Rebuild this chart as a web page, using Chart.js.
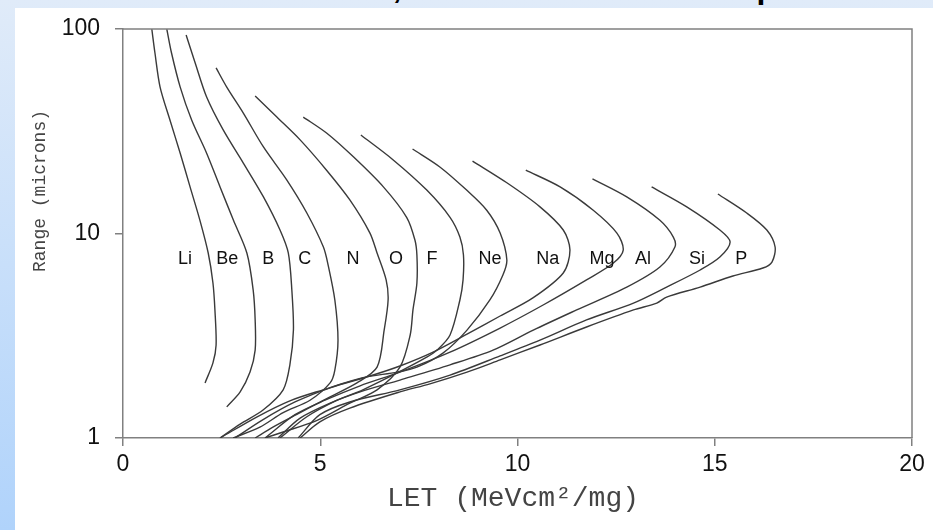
<!DOCTYPE html>
<html>
<head>
<meta charset="utf-8">
<script src="https://cdn.jsdelivr.net/npm/chart.js@4.4.1/dist/chart.umd.min.js"></script>
<style>
html, body {
    margin: 0;
    padding: 0;
    width: 933px;
    height: 530px;
    overflow: hidden;
    background: linear-gradient(180deg, #e0ebf9 0%, #b0d3fb 100%);
}
#panel { position: absolute; left: 15px; top: 8px; width: 918px; height: 522px; background: #fff; }
#title { position: absolute; top: 0; font-weight: bold; font-family: "Liberation Sans", Arial, sans-serif; color: #000; white-space: pre; }
#wrap { position: absolute; left: 0; top: 0; width: 933px; height: 530px; }
</style>
</head>
<body>
<div id="panel"></div>
<div id="title"></div>
<div id="wrap"><canvas id="rangeChart"></canvas></div>
<script>
// LET (MeV cm2/mg) gegen Reichweite (microns)
const ions = ['Li', 'Be', 'B', 'C', 'N', 'O', 'F', 'Ne', 'Na', 'Mg', 'Al', 'Si', 'P'];

const letLi = [0.73, 0.81, 0.94, 1.19, 1.45, 1.70, 1.95, 2.16, 2.28, 2.33, 2.36, 2.28, 2.08];
const rangeLi = [100, 76.3, 52.0, 35.9, 24.7, 16.9, 11.6, 8.03, 5.73, 4.23, 2.85, 2.33, 1.86];

const letBe = [1.11, 1.23, 1.45, 1.74, 2.12, 2.46, 2.80, 3.14, 3.30, 3.35, 3.35, 3.22, 2.97, 2.63];
const rangeBe = [100, 76.3, 52.0, 35.9, 24.7, 16.9, 11.6, 8.03, 5.29, 3.78, 2.69, 2.10, 1.68, 1.42];

const letB = [1.60, 1.83, 2.12, 2.54, 3.05, 3.56, 3.98, 4.19, 4.28, 4.32, 4.23, 4.06, 3.55, 2.97, 2.46];
const rangeB = [93.5, 68.2, 46.5, 32.1, 22.1, 15.1, 10.4, 8.03, 5.29, 3.37, 2.28, 1.72, 1.37, 1.17, 1.0];

const letC = [2.36, 2.63, 3.05, 3.56, 4.15, 4.66, 5.08, 5.20, 5.37, 5.45, 5.37, 5.25, 4.74, 4.06, 3.47, 2.79];
const rangeC = [64.5, 52.0, 38.8, 26.5, 18.3, 12.6, 8.59, 7.01, 4.73, 3.01, 2.15, 1.86, 1.53, 1.33, 1.13, 1.0];

const letN = [3.35, 3.90, 4.49, 5.16, 5.75, 6.26, 6.44, 6.67, 6.72, 6.62, 6.44, 5.93, 5.25, 4.49, 3.80, 3.35];
const rangeN = [47.0, 37.1, 28.7, 20.4, 14.6, 10.05, 8.03, 5.93, 4.73, 3.37, 2.22, 1.86, 1.59, 1.33, 1.13, 1.0];

const letO = [4.57, 5.16, 5.84, 6.60, 7.19, 7.40, 7.45, 7.45, 7.35, 7.28, 7.02, 6.44, 5.75, 4.92, 4.06, 3.60];
const rangeO = [37.1, 31.0, 23.7, 16.9, 12.0, 9.29, 7.85, 5.73, 4.23, 3.19, 2.22, 1.72, 1.48, 1.22, 1.07, 1.0];

const letF = [6.03, 6.85, 7.70, 8.29, 8.54, 8.63, 8.62, 8.54, 8.29, 7.96, 7.71, 6.95, 6.08, 5.43, 4.66, 3.98];
const rangeF = [30.3, 22.9, 16.3, 12.0, 9.61, 7.85, 5.93, 4.73, 3.19, 2.69, 2.49, 2.08, 1.72, 1.53, 1.27, 1.0];

const letNe = [7.34, 8.04, 8.71, 9.22, 9.56, 9.73, 9.63, 9.30, 8.72, 8.11, 7.45, 6.95, 6.08, 5.07, 4.23, 3.40, 2.46];
const rangeNe = [25.9, 21.1, 16.3, 13.0, 10.05, 7.42, 6.27, 4.73, 3.37, 2.60, 2.22, 2.10, 1.97, 1.72, 1.52, 1.27, 1.0];

const letNa = [8.86, 9.73, 10.57, 11.16, 11.33, 11.16, 10.39, 9.56, 8.72, 7.86, 7.02, 6.26, 5.25, 4.36, 3.52, 2.84];
const rangeNa = [22.6, 17.7, 13.5, 10.4, 8.30, 6.41, 4.84, 3.95, 3.22, 2.63, 2.25, 2.01, 1.76, 1.50, 1.22, 1.0];

const letMg = [10.21, 11.08, 11.92, 12.52, 12.68, 12.43, 11.75, 10.65, 9.56, 8.29, 7.02, 6.01, 5.12, 4.36, 3.60];
const rangeMg = [20.4, 16.9, 13.0, 10.05, 8.30, 7.17, 5.93, 4.47, 3.45, 2.63, 2.10, 1.80, 1.53, 1.30, 1.0];

const letAl = [11.90, 12.77, 13.61, 13.95, 13.99, 13.61, 12.77, 11.50, 10.40, 9.38, 8.29, 7.02, 6.01, 5.25, 4.49, 3.93];
const rangeAl = [18.5, 15.1, 11.6, 9.61, 8.59, 6.86, 5.47, 4.23, 3.37, 2.69, 2.28, 1.92, 1.68, 1.48, 1.25, 1.0];

const letSi = [13.40, 14.29, 15.13, 15.39, 15.13, 14.63, 13.78, 12.94, 11.75, 10.57, 9.56, 8.29, 7.02, 5.75, 4.99, 4.44];
const rangeSi = [16.9, 13.5, 10.4, 9.09, 7.67, 6.63, 5.47, 4.57, 3.78, 3.01, 2.52, 2.03, 1.72, 1.50, 1.30, 1.0];

const letP = [15.08, 15.81, 16.32, 16.53, 16.45, 16.22, 15.46, 14.63, 13.78, 13.53, 12.94, 11.75, 10.57, 9.56, 8.72, 7.78, 7.02, 5.75, 4.99, 4.49];
const rangeP = [15.6, 12.6, 10.4, 8.59, 7.25, 6.78, 6.20, 5.47, 4.89, 4.57, 4.23, 3.49, 2.85, 2.41, 2.10, 1.84, 1.68, 1.40, 1.20, 1.0];

const letSeries = [letLi, letBe, letB, letC, letN, letO, letF, letNe, letNa, letMg, letAl, letSi, letP];
const rangeSeries = [rangeLi, rangeBe, rangeB, rangeC, rangeN, rangeO, rangeF, rangeNe, rangeNa, rangeMg, rangeAl, rangeSi, rangeP];

// Beschriftung der Kurven (LET-Position, gemeinsame Reichweite)
const labelLET = [1.57, 2.64, 3.68, 4.61, 5.83, 6.92, 7.83, 9.30, 10.77, 12.14, 13.18, 14.55, 15.67];
const labelRange = 7.5;

const xTicks = [0, 5, 10, 15, 20];
const yTicks = [1, 10, 100];

// Titel oben, abgeschnitten: nur Komma und "p" ragen ins Bild
const titleText = 'LET versus Distance, for ions in a silicon chip';
function placeTitle() {
    const el = document.getElementById('title');
    const ctx = document.createElement('canvas').getContext('2d');
    ctx.font = 'bold 30px "Liberation Sans"';
    const comma = titleText.indexOf(',');
    const pre = ctx.measureText(titleText.slice(0, comma)).width;
    const toP = ctx.measureText(titleText.slice(0, titleText.length - 1)).width;
    const k = 364 / (toP - pre);
    const size = 30 * k;
    el.style.fontSize = size + 'px';
    el.style.lineHeight = size + 'px';
    el.style.left = (393 - pre * k) + 'px';
    el.style.top = (-1 - size * 0.8465) + 'px';
    el.textContent = titleText;
}
placeTitle();

const ionLabels = {
    id: 'ionLabels',
    afterDatasetsDraw(chart) {
        const { ctx, scales: { x, y } } = chart;
        ctx.save();
        ctx.font = '18px "Liberation Sans", Arial, sans-serif';
        ctx.fillStyle = '#111';
        ctx.textAlign = 'center';
        ctx.textBaseline = 'middle';
        ions.forEach((name, i) => {
            ctx.fillText(name, x.getPixelForValue(labelLET[i]), y.getPixelForValue(labelRange));
        });
        ctx.restore();
    }
};

const frame = {
    id: 'frame',
    afterDraw(chart) {
        const { ctx, chartArea: a } = chart;
        ctx.save();
        ctx.strokeStyle = '#808080';
        ctx.lineWidth = 1.5;
        ctx.beginPath();
        ctx.moveTo(a.left, a.top);
        ctx.lineTo(a.right, a.top);
        ctx.lineTo(a.right, a.bottom);
        ctx.stroke();

        // Achsentitel
        ctx.fillStyle = '#444';
        ctx.textAlign = 'center';
        ctx.textBaseline = 'middle';
        ctx.font = '28px "Liberation Mono", "Courier New", monospace';
        ctx.fillText('LET (MeVcm\u00b2/mg)', 513, 499);
        ctx.translate(40, 191);
        ctx.rotate(-Math.PI / 2);
        ctx.font = '18px "Liberation Mono", "Courier New", monospace';
        ctx.fillText('Range (microns)', 0, 0);
        ctx.restore();
    }
};

new Chart(document.getElementById('rangeChart'), {
    type: 'line',
    data: {
        datasets: ions.map((name, i) => ({
            label: name,
            data: letSeries[i].map((v, j) => ({ x: v, y: rangeSeries[i][j] })),
            borderColor: '#3a3a3a',
            borderWidth: 1.4,
            pointRadius: 0,
            tension: 0.3,
            fill: false
        }))
    },
    options: {
        responsive: true,
        maintainAspectRatio: false,
        animation: false,
        events: [],
        layout: { padding: { top: 29, right: 21, left: 0, bottom: 0 } },
        plugins: {
            legend: { display: false },
            tooltip: { enabled: false }
        },
        scales: {
            x: {
                type: 'linear',
                min: 0,
                max: 20,
                afterBuildTicks: s => { s.ticks = xTicks.map(v => ({ value: v })); },
                afterFit: s => { s.height = 92; },
                ticks: {
                    autoSkip: false,
                    padding: 5,
                    color: '#111',
                    font: { family: '"Liberation Sans", Arial, sans-serif', size: 23 }
                },
                grid: { drawOnChartArea: false, tickLength: 8, color: '#808080', lineWidth: 1.5 },
                border: { color: '#808080', width: 1.5 }
            },
            y: {
                type: 'logarithmic',
                min: 1,
                max: 100,
                afterBuildTicks: s => { s.ticks = yTicks.map(v => ({ value: v })); },
                afterFit: s => { s.width = 123; },
                ticks: {
                    autoSkip: false,
                    padding: 15,
                    color: '#111',
                    callback: v => String(v),
                    font: { family: '"Liberation Sans", Arial, sans-serif', size: 23 }
                },
                grid: { drawOnChartArea: false, tickLength: 8, color: '#808080', lineWidth: 1.5 },
                border: { color: '#808080', width: 1.5 }
            }
        }
    },
    plugins: [ionLabels, frame]
});
</script>
</body>
</html>
